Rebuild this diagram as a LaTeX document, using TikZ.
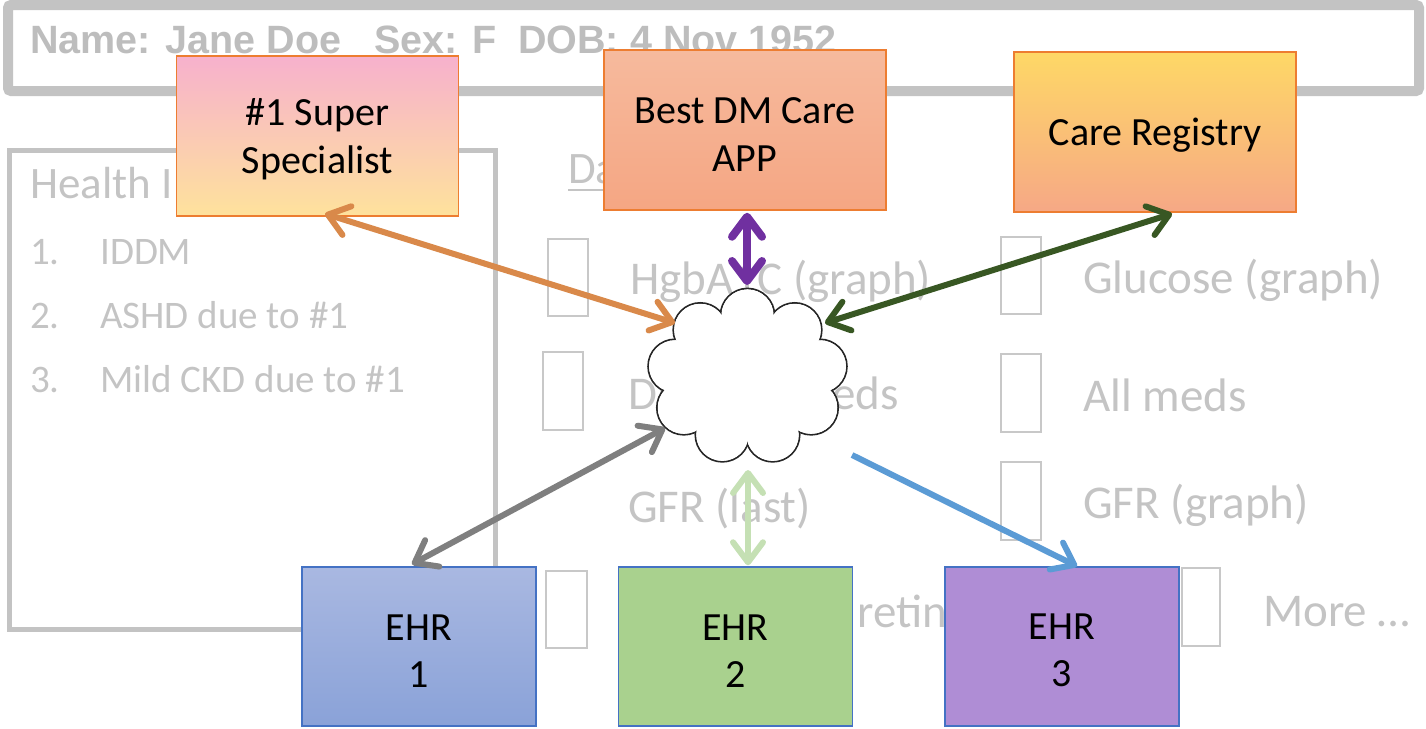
\documentclass[tikz,border=0pt]{standalone}
\usepackage{fontspec}
\setmainfont{Carlito}
\newfontfamily\headerfont{Liberation Sans}
\usetikzlibrary{arrows.meta}

\definecolor{frame}{HTML}{C3C3C3}
\definecolor{fade}{HTML}{C4C4C4}
\definecolor{namegray}{HTML}{BDBDBD}
\definecolor{tickgray}{HTML}{C8C8C8}
\definecolor{boxorange}{HTML}{ED7D31}
\definecolor{boxblue}{HTML}{4472C4}
\definecolor{pinktop}{HTML}{F7B1CD}
\definecolor{pinkmid}{HTML}{F8B5C8}
\definecolor{yellowbot}{HTML}{FEE29C}
\definecolor{salmontop}{HTML}{F6BA9D}
\definecolor{salmonbot}{HTML}{F5A683}
\definecolor{regtop}{HTML}{FED866}
\definecolor{regbot}{HTML}{F6A886}
\definecolor{ehrbluetop}{HTML}{A9B8E1}
\definecolor{ehrbluebot}{HTML}{8AA2D8}
\definecolor{ehrgreen}{HTML}{A9D18E}
\definecolor{ehrpurple}{HTML}{AF8DD5}
\definecolor{linkorange}{HTML}{D9894A}
\definecolor{linkpurple}{HTML}{7030A0}
\definecolor{linkgreen}{HTML}{385723}
\definecolor{linkgray}{HTML}{7F7F7F}
\definecolor{linklight}{HTML}{C5E0B4}
\definecolor{linkblue}{HTML}{5B9BD5}

\tikzset{
  itemtext/.style={text=fade, anchor=base west, inner sep=0, font=\fontsize{47}{56}\selectfont},
  listtext/.style={text=fade, anchor=base west, inner sep=0, font=\fontsize{39}{47}\selectfont},
  headtext/.style={text=fade, anchor=base west, inner sep=0, font=\fontsize{45}{54}\selectfont},
  tickbox/.style={draw=tickgray, line width=2},
  actor/.style={draw=boxorange, line width=1.5, minimum width=282, minimum height=160,
    inner sep=0, align=center, font=\fontsize{40}{48}\selectfont},
  ehrbox/.style={draw=boxblue, line width=1.5, minimum width=234, minimum height=159,
    inner sep=0, align=center, text height=81pt, font=\fontsize{40}{47}\selectfont},
  puff/.style={draw=black!85, fill=white, line width=1.8},
  barb/.tip={Straight Barb[length=20pt,width=30pt,round]},
  link/.style={line width=6, barb-barb},
  onelink/.style={line width=6, -barb},
}

\begin{document}
\begin{tikzpicture}[x=1pt,y=-1pt]
\useasboundingbox (0,0) rectangle (1426,728);

% patient header
\draw[frame, line width=10, rounded corners=3] (8,5) rectangle (1419,91);
\node[anchor=base west, inner sep=0, text=namegray,
      font=\headerfont\bfseries\fontsize{39.5}{48}\selectfont] (name) at (30,53)
  {Name: Jane Doe\ \ \ Sex: F\ \ DOB: 4 Nov 1952};

% problem list panel
\draw[frame, line width=5] (9,150) rectangle (495,629);
\node[headtext] (health) at (30,198) {Health I};
\node[listtext] (n1) at (30,264) {1.};
\node[listtext] (p1) at (100,264) {IDDM};
\node[listtext] (n2) at (30,328) {2.};
\node[listtext] (p2) at (100,328) {ASHD due to \#1};
\node[listtext] (n3) at (30,392) {3.};
\node[listtext] (p3) at (100,392) {Mild CKD due to \#1};

% data panel heading
\node[headtext] (data) at (568,183) {Da};
\draw[fade, line width=2.5] ([yshift=-7pt]data.base west) -- ++(60,0);

% data items with tick boxes
\draw[tickbox] (548,239) rectangle (588,316);
\node[itemtext] (hgb) at (630,294) {HgbA1C (graph)};
\draw[tickbox] (543,352) rectangle (583,430);
\node[itemtext] (dmeds) at (628,409) {Diabetic meds};
\node[itemtext] (gfrl) at (628,522) {GFR (last)};
\draw[tickbox] (546,571) rectangle (587,648);
\node[itemtext] (retina) at (857,627) {retinal};

\draw[tickbox] (1001,237) rectangle (1041,314);
\node[itemtext] (gluc) at (1083,293) {Glucose (graph)};
\draw[tickbox] (1001,354) rectangle (1041,432);
\node[itemtext] (meds) at (1083,411) {All meds};
\draw[tickbox] (1001,462) rectangle (1041,540);
\node[itemtext] (gfrg) at (1083,518) {GFR (graph)};
\draw[tickbox] (1182,568) rectangle (1220,646);
\node[itemtext] (more) at (1263,626) {More …};

% participating systems
\node[actor, text height=82pt, top color=pinktop, middle color=pinkmid, bottom color=yellowbot]
  (spec) at (317.5,136) {\#1 Super\\Specialist};
\node[actor, text height=82pt, top color=salmontop, bottom color=salmonbot]
  (app) at (745,130) {Best DM Care\\APP};
\node[actor, text height=34pt, top color=regtop, middle color=regtop, bottom color=regbot]
  (reg) at (1155,132) {Care Registry};

\node[ehrbox, top color=ehrbluetop, bottom color=ehrbluebot] (ehr1) at (419,646.5) {EHR\\1};
\node[ehrbox, fill=ehrgreen] (ehr2) at (735.5,646.5) {EHR\\2};
\node[ehrbox, fill=ehrpurple] (ehr3) at (1062,646.5) {EHR\\3};

% exchange cloud: outlined puffs, then their insides whitened
\coordinate (cloud) at (747.5,377);
\begin{scope}[shift={(cloud)}, x=1pt, y=1pt]
  \foreach \a in {90,130,...,410}
    \draw[puff] (\a:73.5 and 61.5) circle (27);
  \foreach \a in {90,130,...,410}
    \fill[white] (\a:73.5 and 61.5) circle (26.1);
  \fill[white] (0,0) ellipse (73.5 and 61.5);
\end{scope}

% links to the cloud
\draw[link, linkorange] ([shift={(7.5,-3)}]spec.south) -- ([shift={(-72.5,-54)}]cloud);
\draw[link, linkpurple, line width=8] ([shift={(2,2)}]app.south) -- ([shift={(-0.5,-92)}]cloud);
\draw[link, linkgreen] ([shift={(77.5,-54)}]cloud) -- ([shift={(17,1)}]reg.south);
\draw[link, linkgray] ([shift={(-82.5,51)}]cloud) -- ([shift={(-7,-2)}]ehr1.north);
\draw[link, linklight] ([shift={(0.5,93)}]cloud) -- ([shift={(12.5,-1)}]ehr2.north);
\draw[onelink, linkblue] ([shift={(104.5,78)}]cloud) -- ([shift={(15,0)}]ehr3.north);
\end{tikzpicture}
\end{document}
